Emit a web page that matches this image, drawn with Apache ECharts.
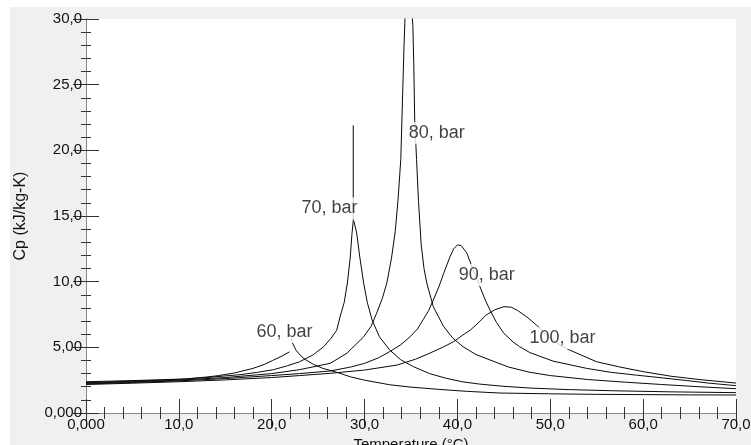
<!DOCTYPE html>
<html>
<head>
<meta charset="utf-8">
<script src="https://cdn.jsdelivr.net/npm/echarts@6/dist/echarts.min.js"></script>
<style>
html,body{margin:0;padding:0;background:#fff;}
#chart{width:751px;height:445px;}
</style>
</head>
<body>
<div id="chart"></div>
<script>
// Tick labels
const xTickLabels = ['0,000','10,0','20,0','30,0','40,0','50,0','60,0','70,0'];
const yTickLabels = ['0,000','5,00','10,0','15,0','20,0','25,0','30,0'];

// Curves: [temperature °C, Cp kJ/kg-K]
const p60Liquid = [[0,2.38],[4,2.45],[8,2.53],[10.8,2.6],[13,2.74],[14.3,2.85],[16,3.05],[18,3.4],[19.2,3.7],[20.1,4.0],[21,4.3],[21.9,4.65]];
const p60Vapor = [[22.1,5.7],[22.2,5.4],[22.6,4.8],[23.2,4.3],[23.7,4.03],[24.5,3.7],[25.5,3.4],[27,3.1],[28.5,2.75],[30,2.5],[32.7,2.15],[35,1.97],[38,1.8],[41,1.65],[44.6,1.52],[50,1.46],[55,1.42],[60,1.4],[65,1.38],[70,1.37]];
const p70Liquid = [[0,2.32],[5,2.42],[10,2.55],[13,2.7],[16.6,2.92],[18.5,3.1],[20.2,3.3],[21.7,3.6],[23,3.9],[24.4,4.4],[25.6,5.05],[26.4,5.7],[27,6.3],[27.35,7.3],[27.8,8.4],[28.15,9.9],[28.45,11.8],[28.65,13.7],[28.78,14.6],[28.78,21.9]];
const p70Vapor = [[28.85,14.6],[29.15,13.7],[29.5,11.8],[29.9,9.9],[30.3,8.4],[30.8,7.1],[31.6,5.8],[32.7,4.8],[33.9,4.05],[35.25,3.53],[37,3.0],[38.8,2.64],[40.5,2.38],[42.4,2.2],[45,2.03],[47.8,1.9],[52,1.78],[57,1.69],[63,1.61],[70,1.55]];
const p80 = [[0,2.27],[5,2.37],[10,2.5],[15,2.7],[20,3.0],[23,3.3],[26.3,3.78],[28.1,4.55],[29.9,5.8],[30.7,6.6],[31.3,7.6],[31.9,8.7],[32.4,9.9],[32.9,11.8],[33.3,13.8],[33.6,16.2],[33.9,19.3],[34.06,23.3],[34.25,28],[34.45,32],[34.7,34],[34.95,32],[35.2,29.5],[35.3,26.5],[35.4,22.3],[35.6,19.3],[35.8,16.2],[36.1,12.8],[36.4,11.0],[36.7,9.9],[37.4,8.1],[38.5,6.6],[39.5,5.7],[40.6,5.05],[42,4.45],[43.5,4.04],[45.5,3.5],[47.8,3.1],[50,2.85],[54,2.55],[58,2.35],[62,2.17],[66,2.0],[70,1.85]];
const p90 = [[0,2.22],[5,2.32],[10,2.45],[15,2.62],[20,2.85],[23,3.0],[26.3,3.2],[28.5,3.5],[30,3.78],[31.5,4.2],[32.7,4.67],[33.9,5.2],[34.9,5.8],[35.7,6.4],[36.3,7.1],[36.9,7.8],[37.4,8.6],[38,9.6],[38.5,10.6],[39.2,11.9],[39.6,12.5],[40,12.8],[40.4,12.75],[41,12.2],[41.7,10.9],[42.35,9.75],[43,8.6],[43.5,7.85],[44.2,6.9],[45,6.07],[46,5.4],[46.7,5.05],[47.8,4.6],[50.3,3.95],[53.9,3.4],[56.5,3.1],[59.3,2.88],[62,2.68],[64.7,2.47],[67,2.28],[70,2.08]];
const p100 = [[0,2.17],[5,2.27],[10,2.38],[15,2.52],[20,2.7],[23,2.85],[26.3,3.02],[30,3.27],[33.5,3.65],[35.5,4.1],[37,4.55],[38.4,5.0],[39.6,5.43],[40.5,5.9],[41.4,6.32],[42.3,6.9],[43.1,7.46],[44,7.85],[45,8.1],[45.8,8.05],[46.5,7.8],[47.5,7.3],[48.5,6.7],[50,5.7],[51,5.2],[51.9,4.85],[55,3.9],[57.5,3.5],[60,3.15],[63,2.8],[66,2.55],[70,2.28]];

// Curve labels
const labelTexts = ['60, bar','70, bar','80, bar','90, bar','100, bar'];
const labelT = [21.38, 26.22, 37.77, 43.15, 51.31];
const labelCp = [6.17, 15.58, 21.3, 10.51, 5.69];

const FONT = '"Liberation Sans", Arial, sans-serif';
const chart = echarts.init(document.getElementById('chart'), null, {renderer:'canvas'});

function lineSeries(data){
  return {type:'line', data:data, xAxisIndex:0, yAxisIndex:0, showSymbol:false, symbol:'none',
    lineStyle:{color:'#0a0a0a', width:1}, clip:true, z:2, animation:false, silent:true};
}

const axisCommon = {
  axisLine:{show:true, lineStyle:{color:'#8a8a8a', width:1}},
  splitLine:{show:false}
};

const option = {
  animation:false,
  backgroundColor:'#f0f0f0',
  graphic:[
    {type:'rect', shape:{x:0,y:0,width:10,height:445}, style:{fill:'#fff'}, z:-10},
    {type:'rect', shape:{x:0,y:0,width:751,height:7}, style:{fill:'#fff'}, z:-10}
  ],
  grid:{left:86, top:19, right:15, bottom:32, show:true, backgroundColor:'#fff', borderWidth:0, outerBoundsMode:'none', containLabel:false},
  xAxis:[
    Object.assign({}, axisCommon, {
      type:'value', min:0, max:70, interval:10, position:'bottom',
      axisTick:{show:true, inside:true, length:14, lineStyle:{color:'#333'}},
      minorTick:{show:true, splitNumber:5, length:6, lineStyle:{color:'#333'}},
      axisLabel:{show:true, margin:4, fontSize:15, fontFamily:FONT, color:'#111',
        formatter:function(v){return xTickLabels[Math.round(v/10)];}},
      name:'Temperature (°C)', nameLocation:'middle', nameGap:19,
      nameTextStyle:{fontSize:15, fontFamily:FONT, color:'#111'}
    }),
    Object.assign({}, axisCommon, {
      type:'value', min:0, max:70, interval:10, position:'top',
      axisTick:{show:true, inside:true, length:14, lineStyle:{color:'#333'}},
      minorTick:{show:true, splitNumber:5, length:6, lineStyle:{color:'#333'}},
      axisLabel:{show:false}
    })
  ],
  yAxis:[
    Object.assign({}, axisCommon, {
      type:'value', min:0, max:30, interval:5, position:'left',
      axisTick:{show:true, inside:true, length:13, lineStyle:{color:'#333'}},
      minorTick:{show:true, splitNumber:5, length:5, lineStyle:{color:'#333'}},
      axisLabel:{show:true, margin:4, fontSize:15, fontFamily:FONT, color:'#111',
        formatter:function(v){return yTickLabels[Math.round(v/5)];}},
      name:'Cp (kJ/kg-K)', nameLocation:'middle', nameGap:57,
      nameTextStyle:{fontSize:16, fontFamily:FONT, color:'#111'}
    }),
    Object.assign({}, axisCommon, {
      type:'value', min:0, max:30, interval:5, position:'right',
      axisTick:{show:true, inside:true, length:13, lineStyle:{color:'#333'}},
      minorTick:{show:true, splitNumber:5, length:5, lineStyle:{color:'#333'}},
      axisLabel:{show:false}
    })
  ],
  series:[
    lineSeries(p60Liquid), lineSeries(p60Vapor),
    lineSeries(p70Liquid), lineSeries(p70Vapor),
    lineSeries(p80), lineSeries(p90), lineSeries(p100),
    {
      type:'scatter', xAxisIndex:0, yAxisIndex:0, symbolSize:0, z:10, silent:true,
      data: labelTexts.map(function(t,i){return {value:[labelT[i], labelCp[i]], name:t};}),
      label:{show:true, position:'inside', formatter:function(p){return p.name;},
        fontSize:18, fontFamily:FONT, color:'#111', backgroundColor:'#fff', padding:[2,2]}
    }
  ]
};
chart.setOption(option);
</script>
</body>
</html>
